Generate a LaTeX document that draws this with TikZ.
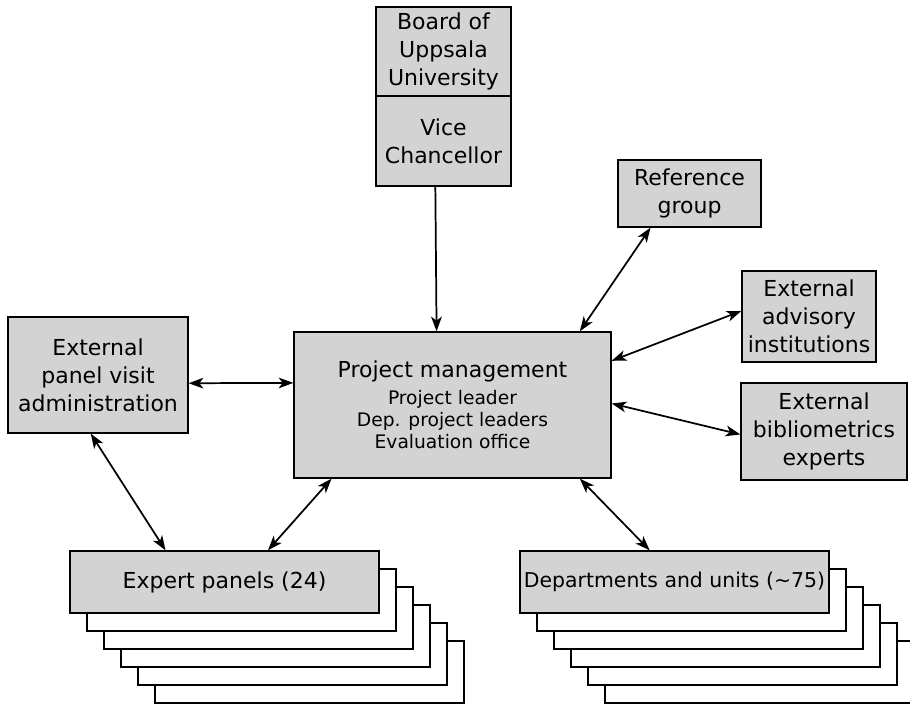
\documentclass[tikz,border=0pt]{standalone}
\usepackage{fontspec}
\setmainfont{DejaVu Sans}
\usetikzlibrary{calc,arrows.meta}
\definecolor{boxgray}{RGB}{211,211,211}
\tikzset{
    box/.style={draw, line width=1pt, fill=boxgray, align=center, inner sep=0pt,
        font=\fontsize{16.5}{21}\selectfont},
    size/.style 2 args={minimum width=#1*0.75pt, minimum height=#2*0.75pt},
    sheet/.style={draw, line width=1pt, fill=white},
    link/.style={line width=1.3pt, {Stealth[length=11pt,width=8pt,inset=3pt]}-{Stealth[length=11pt,width=8pt,inset=3pt]}},
    feed/.style={line width=1.3pt, -{Stealth[length=11pt,width=8pt,inset=3pt]}}
}
\newcommand{\smallfont}{\fontsize{14}{16.5}\selectfont}
\begin{document}
\begin{tikzpicture}[x=0.75pt, y=-0.75pt]
    \useasboundingbox (0,0) rectangle (910,705);
    \clip (0,0) rectangle (910,705);

    % Stacked sheets behind the panels
    \foreach \i in {5,4,...,1} {
        \draw[sheet] (70+17*\i,551+18*\i) rectangle (379+17*\i,613+18*\i);
        \draw[sheet] (520+17*\i,551+18*\i) rectangle (829+17*\i,613+18*\i);
    }

    % Boxes
    \node[box, size={135}{89}] (board) at (443.5,51.5) {Board of\\Uppsala\\University};
    \node[box, size={135}{90}] (vc) at (443.5,141) {Vice\\Chancellor};
    \node[box, size={143}{67}] (ref) at (689.5,193.5) {Reference\\group};
    \node[box, size={134}{91}] (adv) at (809,316.5) {External\\advisory\\institutions};
    \node[box, size={166}{97}] (bib) at (824,431.5) {External\\bibliometrics\\experts};
    \node[box, size={317}{146}] (pm) at (452.5,405)
        {Project management\\[-0.5pt]\smallfont Project leader\\[-4.5pt]\smallfont Dep. project leaders\\[-4.5pt]\smallfont Evaluation office};
    \node[box, size={180}{116}] (pv) at (98,375) {External\\panel visit\\administration};
    \node[box, size={309}{62}] (exp) at (224.5,582) {Expert panels (24)};
    \node[box, size={309}{62}, font=\fontsize{15.3}{18}\selectfont] (dep) at (674.5,582) {Departments and units (\textasciitilde75)};

    % Connectors
    \draw[feed] ($(vc.south west)!0.44!(vc.south east)$) -- ($(pm.north west)!0.45!(pm.north east)$);
    \draw[link] ($(ref.south west)!0.23!(ref.south east)$) -- ($(pm.north west)!0.90!(pm.north east)$);
    \draw[link] ($(adv.north west)!0.44!(adv.south west)$) -- ($(pm.north east)!0.20!(pm.south east)$);
    \draw[link] ($(bib.north west)!0.53!(bib.south west)$) -- ($(pm.north east)!0.49!(pm.south east)$);
    \draw[link] ($(pv.north east)!0.57!(pv.south east)$) -- ($(pm.north west)!0.35!(pm.south west)$);
    \draw[link] ($(pv.south west)!0.46!(pv.south east)$) -- ($(exp.north west)!0.31!(exp.north east)$);
    \draw[link] ($(pm.south west)!0.12!(pm.south east)$) -- ($(exp.north west)!0.64!(exp.north east)$);
    \draw[link] ($(pm.south west)!0.90!(pm.south east)$) -- ($(dep.north west)!0.42!(dep.north east)$);
\end{tikzpicture}
\end{document}
